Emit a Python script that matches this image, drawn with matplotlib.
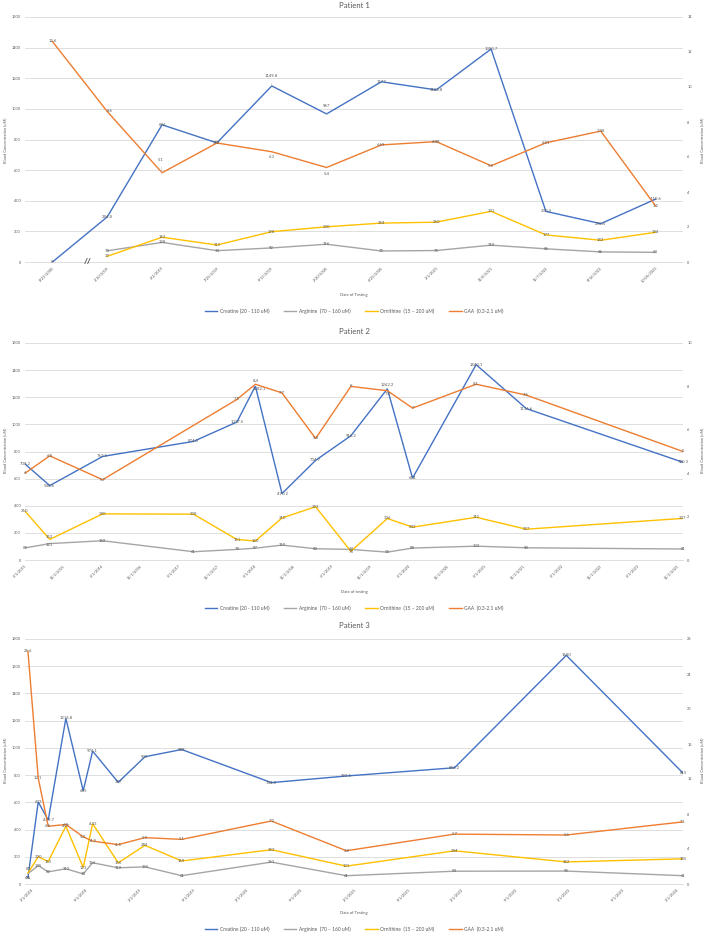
import numpy as np
import pandas as pd
import matplotlib
matplotlib.use('Agg')
import matplotlib.pyplot as plt
from matplotlib.lines import Line2D

plt.rcParams['font.family'] = ['Lato', 'DejaVu Sans']

nan = np.nan

# ---------------- Patient 1 (category axis) ----------------
p1_dates = ['8/23/2000', '1/10/2019', '3/2/2019', '7/25/2019', '9/13/2019', '2/20/2020',
            '6/25/2020', '3/1/2021', '11/8/2021', '11/7/2022', '8/16/2023', '10/06/2023']
p1_creatine = [0, 294.8, 896, 778, 1149.8, 967, 1177, 1123.8, 1390.7, 330.4, 250.4, 410.6]
p1_arginine = [nan, 73, 128, 74, 92, 116, 72, 75, 110, 86, 66, 63]
p1_ornithine = [nan, 37, 162, 111, 198, 230, 254, 260, 331, 177, 142, 194]
p1_gaa = [12.6, 8.6, 5.1, 6.8, 6.3, 5.4, 6.69, 6.88, 5.5, 6.81, 7.48, 3.2]

# ---------------- Patient 2 (date axis) ----------------
p2_dates = ['2015-05-01', '2015-08-27', '2016-05-05', '2017-07-12', '2018-02-04', '2018-05-03',
            '2018-09-07', '2019-02-14', '2019-08-01', '2020-01-22', '2020-05-21', '2021-03-20',
            '2021-11-14', '2023-12-01']
p2_creatine = [708.2, 548.6, 763.5, 874.4, 1017.5, 1282.1, 490.2, 734.7, 916.2, 1262.2, 604,
               1440.1, 1116.6, 720.3]
p2_arginine = [89, 121, 142, 61, 78, 87, 110, 83, 78, 58, 88, 102, 90, 81]
p2_ornithine = [360, 152, 340, 338, 151, 140, 310, 393, 64, 306, 242, 315, 227, 307]
p2_gaa = [4.0, 4.8, 3.7, nan, 7.4, 8.1, 7.7, 5.6, 8.0, 7.8, 7.0, 8.1, 7.6, 5.0]
p2_gaa_text = ['6', '6.8', '5.7', '', '7.5', '8.4', '7.7', '5.8', '8', '7.8', '7', '8.1', '7.6', '5']
p2_ticks = ['5/1/2015', '11/1/2015', '5/1/2016', '11/1/2016', '5/1/2017', '11/1/2017',
            '5/1/2018', '11/1/2018', '5/1/2019', '11/1/2019', '5/1/2020', '11/1/2020',
            '5/1/2021', '11/1/2021', '5/1/2022', '11/1/2022', '5/1/2023', '11/1/2023']

# ---------------- Patient 3 (date axis) ----------------
p3_dates = ['2018-02-15', '2018-03-22', '2018-04-25', '2018-06-24', '2018-08-22', '2018-09-23',
            '2018-12-19', '2019-03-20', '2019-07-23', '2020-05-23', '2021-02-02', '2022-02-05',
            '2023-02-20', '2024-03-23']
p3_creatine = [46, 603, 469.7, 1216.8, 685, 976.1, 747, 935, 988, 744.8, 793.5, 854.2, 1680, 815]
p3_arginine = [76, 135, 89, 112, 74, 156, 119, 126, 61, 161, 61, 94, 95, 61]
p3_ornithine = [80, 200, 165, 425, 121, 443, 156, 284, 169, 252, 131, 244, 162, 185]
p3_gaa = [26.6, 12.1, 6.6, 6.8, 5.4, 4.9, 4.5, 5.3, 5.1, 7.2, 3.8, 5.7, 5.6, 7.1]
p3_ticks = ['3/1/2018', '9/1/2018', '3/1/2019', '9/1/2019', '3/1/2020', '9/1/2020',
            '3/1/2021', '9/1/2021', '3/1/2022', '9/1/2022', '3/1/2023', '9/1/2023', '3/1/2024']

series_names = ['Creatine (20 - 110 uM)', 'Arginine  (70 \u2013 160 uM)',
                'Ornithine  (15 \u2013 200 uM)', 'GAA  (0.3-2.1 uM)']

# ---------------- styling ----------------
W, H = 709, 934
TXT = '#595959'
GRID = '#D9D9D9'
C_CRE, C_ARG, C_ORN, C_GAA = '#4472C4', '#A5A5A5', '#FFC000', '#ED7D31'
LW = 1.0
TICK_FS = 2.8
LAB_FS = 3.1

# data-label nudges (points), keyed by series id and point index
NUDGE = {
    'p1_cre': {4: (0, 7), 5: (0, 6)},
    'p1_gaa': {1: (2, 0), 2: (-1, 9), 4: (0, -4), 5: (0, -5)},
    'p2_cre': {5: (3, -2), 9: (0, 2.5)},
    'p2_gaa': {5: (0, 2.5), 9: (0, -2.5)},
    'p2_orn': {1: (0, 1.8), 8: (0, 2)},
    'p2_arg': {1: (0, -1.2), 8: (0, -2)},
    'p3_orn': {0: (0, 3)},
    'p3_arg': {0: (0, -3)},
}

fig = plt.figure(figsize=(W / 100, H / 100), dpi=100)


def rect(x0, y0, x1, y1):
    return [x0 / W, 1 - y1 / H, (x1 - x0) / W, (y1 - y0) / H]


def fmt(v):
    return f'{v:g}'


def draw_series(ax, x, y, color, key, texts=None):
    x = np.asarray(x)
    y = np.asarray(y, dtype=float)
    m = ~np.isnan(y)
    ax.plot(x[m], y[m], color=color, lw=LW, solid_joinstyle='miter', zorder=3)
    if texts is None:
        texts = [fmt(v) for v in y]
    nudges = NUDGE.get(key, {})
    for i in range(len(y)):
        if not m[i]:
            continue
        dx, dy = nudges.get(i, (0, 0))
        kw = {}
        if abs(dy) >= 5:
            kw['arrowprops'] = dict(arrowstyle='-', color='#BFBFBF', lw=0.4,
                                    shrinkA=1.5, shrinkB=0)
        ax.annotate(texts[i], (x[i], y[i]), xytext=(dx, dy), textcoords='offset points',
                    ha='center', va='center', fontsize=LAB_FS, color=TXT, zorder=5, **kw)


def base_style(ax, ax2, ymax, ystep, y2max, y2step):
    ax.set_ylim(0, ymax)
    ax.set_yticks(np.arange(0, ymax + 1, ystep))
    ax2.set_ylim(0, y2max)
    ax2.set_yticks(np.arange(0, y2max + 0.01, y2step))
    ax.grid(axis='y', color=GRID, lw=0.6)
    ax.set_axisbelow(True)
    for a in (ax, ax2):
        for s in ['left', 'right', 'top', 'bottom']:
            a.spines[s].set_visible(False)
        a.tick_params(axis='both', length=0, labelsize=TICK_FS, colors=TXT, pad=3)
    ax.spines['bottom'].set_visible(True)
    ax.spines['bottom'].set_color(GRID)
    ax.spines['bottom'].set_linewidth(0.6)
    ax.patch.set_alpha(0)


def decorate(title, ty, xlab, xy, legy, ylab_y):
    fig.text(354 / W, 1 - ty / H, title, ha='center', va='center', fontsize=5.6, color=TXT)
    fig.text(354 / W, 1 - xy / H, xlab, ha='center', va='center', fontsize=3.0, color=TXT)
    fig.text(5 / W, 1 - ylab_y / H, 'Blood Concentration (uM)', rotation=90, ha='center',
             va='center', fontsize=2.9, color=TXT)
    fig.text(702 / W, 1 - ylab_y / H, 'Blood Concentration (uM)', rotation=90, ha='center',
             va='center', fontsize=2.9, color=TXT)
    handles = [Line2D([], [], color=c, lw=LW) for c in (C_CRE, C_ARG, C_ORN, C_GAA)]
    leg = fig.legend(handles, series_names, loc='center', bbox_to_anchor=(354 / W, 1 - legy / H),
                     ncol=4, frameon=False, fontsize=3.5, handlelength=2.6,
                     columnspacing=3.0, handletextpad=0.5)
    for t in leg.get_texts():
        t.set_color(TXT)


def xticklabels(ax, pos, labels):
    ax.set_xticks(pos)
    ax.set_xticklabels(labels, rotation=45, ha='right', rotation_mode='anchor')


# ---------------- Panel 1 ----------------
ax1 = fig.add_axes(rect(25, 17, 683, 262))
ax1b = ax1.twinx()
x1 = np.arange(len(p1_dates))
draw_series(ax1, x1, p1_creatine, C_CRE, 'p1_cre')
draw_series(ax1, x1, p1_arginine, C_ARG, 'p1_arg')
draw_series(ax1, x1, p1_ornithine, C_ORN, 'p1_orn')
draw_series(ax1b, x1, p1_gaa, C_GAA, 'p1_gaa')
base_style(ax1, ax1b, 1600, 200, 14, 2)
ax1.set_xlim(-0.5, len(p1_dates) - 0.5)
xticklabels(ax1, x1, p1_dates)
ax1.text(0.65, 0, '//', ha='center', va='center', fontsize=6, fontweight='bold',
         color='#404040', zorder=6)
decorate('Patient 1', 5, 'Date of Testing', 295, 311, 140)

# ---------------- Panel 2 ----------------
ax2 = fig.add_axes(rect(25, 343, 683, 560))
ax2b = ax2.twinx()
d2 = pd.to_datetime(p2_dates)
draw_series(ax2, d2, p2_creatine, C_CRE, 'p2_cre')
draw_series(ax2, d2, p2_arginine, C_ARG, 'p2_arg')
draw_series(ax2, d2, p2_ornithine, C_ORN, 'p2_orn')
draw_series(ax2b, d2, p2_gaa, C_GAA, 'p2_gaa', texts=p2_gaa_text)
base_style(ax2, ax2b, 1600, 200, 10, 2)
ax2.set_xlim(pd.Timestamp('2015-05-01'), pd.Timestamp('2023-12-01'))
xticklabels(ax2, pd.to_datetime(p2_ticks, format='%m/%d/%Y'), p2_ticks)
decorate('Patient 2', 331, 'Date of testing', 592, 608, 450)

# ---------------- Panel 3 ----------------
ax3 = fig.add_axes(rect(25, 639, 683, 884))
ax3b = ax3.twinx()
d3 = pd.to_datetime(p3_dates)
draw_series(ax3, d3, p3_creatine, C_CRE, 'p3_cre')
draw_series(ax3, d3, p3_arginine, C_ARG, 'p3_arg')
draw_series(ax3, d3, p3_ornithine, C_ORN, 'p3_orn')
draw_series(ax3b, d3, p3_gaa, C_GAA, 'p3_gaa')
base_style(ax3, ax3b, 1800, 200, 28, 4)
ax3.set_xlim(pd.Timestamp('2018-02-05'), pd.Timestamp('2024-03-23'))
xticklabels(ax3, pd.to_datetime(p3_ticks, format='%m/%d/%Y'), p3_ticks)
decorate('Patient 3', 625, 'Date of Testing', 913, 929, 760)

fig.savefig('out.png', dpi=100, facecolor='white')
